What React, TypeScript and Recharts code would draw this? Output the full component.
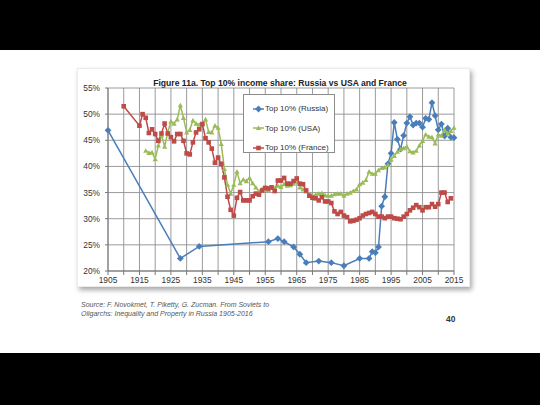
import React from 'react';
import { LineChart, Line, XAxis, YAxis, CartesianGrid, Legend } from 'recharts';

// Top 10% income share (%)
const russiaYears = [1905, 1928, 1934, 1956, 1959, 1961, 1964, 1966, 1968, 1972, 1976, 1980, 1985, 1988,
  1989, 1990, 1991, 1992, 1993, 1994, 1995, 1996, 1997, 1998, 1999, 2000, 2001, 2002, 2003, 2004,
  2005, 2006, 2007, 2008, 2009, 2010, 2011, 2012, 2013, 2014, 2015];
const russiaShare = [46.9, 22.4, 24.7, 25.6, 26.2, 25.6, 24.6, 23.2, 21.6, 21.9, 21.6, 21.0, 22.4, 22.4,
  23.7, 23.5, 24.6, 32.4, 34.2, 40.5, 42.5, 48.4, 45.2, 43.3, 45.9, 48.3, 49.5, 47.9, 48.3, 48.3,
  47.5, 49.2, 49.0, 52.2, 49.7, 47.0, 48.1, 45.8, 47.3, 45.6, 45.5];

const usaFirstYear = 1917;
const usaShare = [
  43.0, 42.6, 42.7, 41.4, 44.0, 46.0, 43.8, 46.5, 48.6, 48.2, // 1917-1926
  49.0, 51.7, 49.3, 46.5, 47.0, 48.8, 48.2, 48.0, 48.2, 49.0, // 1927-1936
  46.6, 46.5, 47.8, 47.4, 44.3, 39.5, 36.5, 34.8, 36.5, 39.0, // 1937-1946
  36.8, 37.5, 37.2, 37.8, 36.8, 36.0, 35.2, 35.7, 35.6, 35.5, // 1947-1956
  35.9, 35.8, 36.3, 36.1, 36.6, 36.3, 36.4, 36.7, 37.2, 36.0, // 1957-1966
  35.6, 35.2, 34.7, 34.4, 34.6, 34.8, 34.9, 34.5, 34.4, 34.4, // 1967-1976
  34.7, 34.8, 34.8, 34.4, 34.8, 35.0, 35.3, 35.6, 36.6, 36.9, // 1977-1986
  37.4, 39.0, 38.6, 38.6, 39.3, 39.7, 39.8, 40.3, 41.3, 42.0, // 1987-1996
  42.8, 43.3, 43.5, 43.8, 42.9, 42.7, 43.0, 44.0, 44.9, 46.1, // 1997-2006
  45.7, 45.6, 44.4, 46.1, 45.9, 47.0, 46.3, 46.8, 47.4,       // 2007-2015
];

const franceYears = [1910];
const franceFirstYear = 1915;
const franceShare = [
  51.5,
  47.8, 50.0, 49.3, 46.4, 47.1, 46.2, 44.9, 46.3, 48.2, 46.3, // 1915-1924
  45.6, 44.8, 46.2, 46.2, 44.9, 42.5, 42.3, 44.6, 46.5, 47.1, // 1925-1934
  48.1, 45.4, 44.6, 43.4, 40.7, 41.7, 40.5, 37.9, 34.2, 31.7, // 1935-1944
  30.6, 34.0, 35.1, 33.5, 33.5, 33.5, 34.3, 34.8, 34.6, 35.4, // 1945-1954
  35.9, 35.8, 36.0, 35.3, 37.3, 37.3, 37.8, 36.7, 36.7, 37.2, // 1955-1964
  37.7, 36.7, 36.6, 35.4, 34.4, 34.0, 33.9, 33.5, 34.1, 33.3, // 1965-1974
  33.3, 33.0, 31.4, 30.9, 31.3, 30.6, 30.3, 29.5, 29.6, 29.8, // 1975-1984
  30.1, 30.6, 30.9, 31.1, 31.3, 30.9, 30.4, 30.4, 30.1, 30.4, // 1985-1994
  30.4, 30.1, 30.0, 29.9, 30.4, 30.9, 31.6, 32.1, 32.6, 32.2, // 1995-2004
  31.6, 32.2, 32.2, 32.8, 32.3, 32.8, 35.0, 35.0, 33.2, 33.9, // 2005-2014
];

const gridYears = [1905, 1910, 1915, 1920, 1925, 1930, 1935, 1940, 1945, 1950, 1955, 1960,
  1965, 1970, 1975, 1980, 1985, 1990, 1995, 2000, 2005, 2010, 2015];
const labelYears = [1905, 1915, 1925, 1935, 1945, 1955, 1965, 1975, 1985, 1995, 2005, 2015];
const shareTicks = [20, 25, 30, 35, 40, 45, 50, 55];

const consecutive = (start: number, n: number) => Array.from({ length: n }, (_, i) => start + i);

const russiaData = russiaYears.map((year, i) => ({ year, share: russiaShare[i] }));
const usaData = consecutive(usaFirstYear, usaShare.length).map((year, i) => ({ year, share: usaShare[i] }));
const franceAllYears = franceYears.concat(consecutive(franceFirstYear, franceShare.length - franceYears.length));
const franceData = franceAllYears.map((year, i) => ({ year, share: franceShare[i] }));

const BLUE = '#4a7ebb';
const GREEN = '#9bbb59';
const RED = '#be4b48';
const FONT = '"Liberation Sans", Arial, sans-serif';

const marker = (shape: string, color: string, cx: number, cy: number, key?: React.Key) => {
  if (shape === 'diamond') {
    const r = 3.4;
    return <polygon key={key} points={`${cx},${cy - r} ${cx + r},${cy} ${cx},${cy + r} ${cx - r},${cy}`} fill={color} />;
  }
  if (shape === 'triangle') {
    const r = 2.6;
    return <polygon key={key} points={`${cx},${cy - r} ${cx + r},${cy + r * 0.8} ${cx - r},${cy + r * 0.8}`} fill={color} />;
  }
  return <rect key={key} x={cx - 2.3} y={cy - 2.3} width={4.6} height={4.6} fill={color} />;
};

const dotFor = (shape: string, color: string) => (props: any) => {
  const { cx, cy, index } = props;
  if (cx == null || cy == null) return <g key={`e${index}`} />;
  return marker(shape, color, cx, cy, `${shape}-${index}`);
};

const series = [
  { name: 'Top 10% (Russia)', data: russiaData, color: BLUE, shape: 'diamond' },
  { name: 'Top 10% (USA)', data: usaData, color: GREEN, shape: 'triangle' },
  { name: 'Top 10% (France)', data: franceData, color: RED, shape: 'square' },
];

const LegendBox = () => (
  <div style={{ width: 92, height: 59, border: '1px solid #8c8c8c', background: '#fff', boxSizing: 'border-box', paddingTop: 4 }}>
    {series.map((s) => (
      <div key={s.name} style={{ display: 'flex', alignItems: 'center', height: 19.5, fontFamily: FONT, fontSize: 8, color: '#333' }}>
        <svg width={22} height={10} style={{ marginLeft: 8 }}>
          <line x1={1} y1={5} x2={12} y2={5} stroke={s.color} strokeWidth={1.5} />
          {marker(s.shape, s.color, 6.5, 5)}
        </svg>
        <span style={{ marginLeft: -9 }}>{s.name}</span>
      </div>
    ))}
  </div>
);

export default function App() {
  return (
    <div style={{ position: 'absolute', left: 0, top: 0, width: 540, height: 405, background: '#000', overflow: 'hidden' }}>
      <div style={{ position: 'absolute', left: 0, top: 50, width: 540, height: 303, background: '#fff' }} />
      <div style={{ position: 'absolute', left: 77, top: 68, width: 393, height: 219, background: '#fff',
        boxShadow: '2px 3px 5px rgba(0,0,0,0.35)', border: '1px solid #ececec', boxSizing: 'border-box' }}>
        <div style={{ position: 'absolute', left: 30, top: 9, width: 344, textAlign: 'center', fontFamily: FONT,
          fontWeight: 'bold', fontSize: 8.6, color: '#222', whiteSpace: 'nowrap' }}>
          Figure 11a. Top 10% income share: Russia vs USA and France
        </div>
        <LineChart width={393} height={219} margin={{ top: 19, right: 17, bottom: 0, left: 0 }} style={{ fontFamily: FONT }}>
          <CartesianGrid stroke="#8e8e8e" strokeWidth={0.9} />
          <XAxis dataKey="year" type="number" domain={[1905, 2015]} ticks={gridYears} allowDuplicatedCategory={false}
            tickFormatter={(v: number) => (labelYears.includes(v) ? String(v) : '')} height={17}
            tick={{ fontSize: 8.4, fill: '#333' }} tickSize={4} tickMargin={2} stroke="#777" interval={0} />
          <YAxis type="number" domain={[20, 55]} ticks={shareTicks} tickFormatter={(v: number) => `${v}%`} width={30}
            tick={{ fontSize: 8.4, fill: '#333' }} tickSize={3} tickMargin={5} stroke="#777" interval={0} />
          <Legend layout="vertical" align="center" verticalAlign="middle" content={<LegendBox />}
            wrapperStyle={{ left: 165, top: 25, width: 92, height: 59 }} />
          {series.map((s) => (
            <Line key={s.name} name={s.name} data={s.data} dataKey="share" type="linear" stroke={s.color} strokeWidth={1.5}
              dot={dotFor(s.shape, s.color)} activeDot={false} isAnimationActive={false} />
          ))}
        </LineChart>
      </div>
      <div style={{ position: 'absolute', left: 81, top: 300, fontFamily: FONT, fontStyle: 'italic', fontSize: 7,
        lineHeight: '9.4px', color: '#555' }}>
        Source: F. Novokmet, T. Piketty, G. Zucman. From Soviets to<br />
        Oligarchs: Inequality and Property in Russia 1905-2016
      </div>
      <div style={{ position: 'absolute', left: 446, top: 314, fontFamily: FONT, fontSize: 8.4, fontWeight: 'bold', color: '#333' }}>
        40
      </div>
    </div>
  );
}
